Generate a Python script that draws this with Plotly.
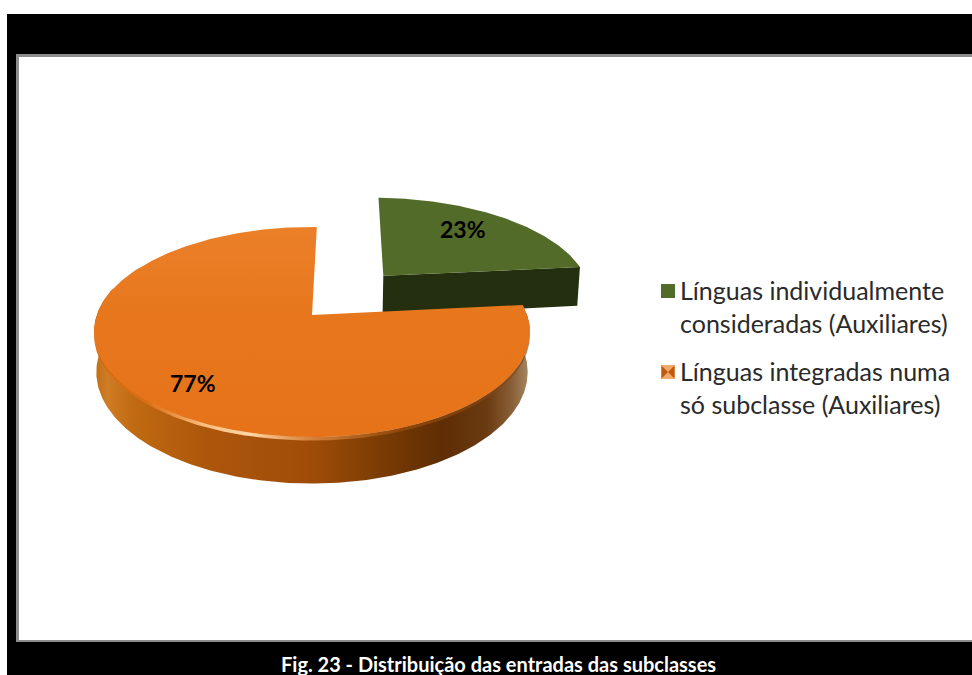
import numpy as np
import plotly.graph_objects as go

# ---- data ----
categories = ["Línguas individualmente<br>consideradas (Auxiliares)",
              "Línguas integradas numa<br>só subclasse (Auxiliares)"]
values = [23, 77]
value_labels = ["23%", "77%"]
caption = "Fig. 23 - Distribuição das entradas das subclasses"

# ---- style ----
GREEN_TOP = "#536b28"
GREEN_SIDE = "#232f0f"
FONT = "Lato"

# ---- perspective pie projection (screen-pixel axes) ----
CX, CY = 312.0, 315.0      # image of the pie centre
A, B, K = 215.0, 102.3, 0.162
H = 39.0                    # height of the disc
LOWER_SCALE = 0.99
ROT = 1.5                   # first slice angle
EXPLODE = 0.54
EXPLODE_SKEW = -2.0         # degrees


def proj(X, Y, low=False, h=H):
    w = 1 + K * Y
    sx = A * X / w
    sy = -B * Y / w
    if low:
        sx = sx * LOWER_SCALE
        sy = sy + h / w
    return CX + sx, CY + sy


shares = np.array(values, float) / sum(values)
bounds = np.concatenate([[0], np.cumsum(shares)]) * 360 + ROT


def arc(a0, a1, ox=0.0, oy=0.0, low=False, n=160, h=H):
    t = np.radians(np.linspace(a0, a1, n))
    return proj(ox + np.sin(t), oy + np.cos(t), low, h)


def poly(x, y, **kw):
    return go.Scatter(x=list(x), y=list(y), mode="lines", fill="toself",
                      line=dict(width=0), hoverinfo="skip", showlegend=False, **kw)


fig = go.Figure()

# --- green (exploded) slice ---
a0, a1 = bounds[0], bounds[1]
bis = np.radians((a0 + a1) / 2 + EXPLODE_SKEW)
ox, oy = EXPLODE * np.sin(bis), EXPLODE * np.cos(bis)
H_GREEN = H + 3
ax, ay = proj(np.array([ox]), np.array([oy]))
axl, ayl = proj(np.array([ox]), np.array([oy]), True, H_GREEN)
tx, ty = arc(a0, a1, ox, oy)
lx, ly = arc(a0, a1, ox, oy, True, h=H_GREEN)
# cut face of the green slice
fig.add_trace(poly(np.r_[ax, tx[-1], lx[-1], axl], np.r_[ay, ty[-1], ly[-1], ayl], fillcolor=GREEN_SIDE))
fig.add_trace(poly(np.r_[ax, tx], np.r_[ay, ty], fillcolor=GREEN_TOP))

# --- orange slice ---
a0, a1 = bounds[1], bounds[2]
WALL_END = 300              # the back of the rim is hidden behind the top face
tx, ty = arc(a0, a1, n=400)
wx, wy = arc(a0, WALL_END, n=400)
lx, ly = arc(a0, WALL_END, low=True, n=400)
ax, ay = proj(np.array([0.0]), np.array([0.0]))
wall_scale = [[0.00, "#c06c14"], [0.03, "#cf7d24"], [0.09, "#c06a12"], [0.25, "#ad570c"],
              [0.50, "#a04c08"], [0.65, "#7c3d04"], [0.80, "#5e2d04"], [0.90, "#6a3a10"],
              [0.96, "#8a6038"], [1.00, "#a88a68"]]
fig.add_trace(poly(np.r_[wx, lx[::-1]], np.r_[wy, ly[::-1]],
                   fillcolor="#a04c08",
                   fillgradient=dict(type="horizontal", colorscale=wall_scale)))
# soft rounded bevel under the top rim
bx, by = arc(bounds[1] + 5, 285, n=300)
bevel_scale = [[0.00, "rgba(215,105,15,0.95)"], [0.12, "rgba(220,110,20,0.90)"],
               [0.25, "rgba(255,195,130,0.95)"], [0.36, "rgba(255,215,165,1.0)"],
               [0.50, "rgba(235,150,80,0.70)"], [0.70, "rgba(170,85,15,0.55)"],
               [1.00, "rgba(120,65,15,0.55)"]]
fig.add_trace(poly(np.r_[bx, bx[::-1]], np.r_[by - 1, (by + 3.5)[::-1]],
                   fillcolor="rgba(240,150,70,0.45)",
                   fillgradient=dict(type="horizontal", colorscale=bevel_scale)))
top_scale = [[0.0, "#e6731a"], [0.55, "#e7761c"], [1.0, "#eb8029"]]
fig.add_trace(poly(np.r_[ax, tx, ax], np.r_[ay, ty, ay],
                   fillcolor="#e8771b",
                   fillgradient=dict(type="vertical", colorscale=top_scale)))

# --- legend swatches ---
fig.add_trace(go.Scatter(x=[668], y=[291], mode="markers", hoverinfo="skip", showlegend=False,
                         marker=dict(symbol="square", size=14, color=GREEN_TOP, line=dict(width=0))))
fig.add_trace(go.Scatter(x=[668], y=[372], mode="markers", hoverinfo="skip", showlegend=False,
                         marker=dict(symbol="square", size=14, color="#f2a868", line=dict(width=0))))
fig.add_trace(go.Scatter(x=[668], y=[372], mode="markers", hoverinfo="skip", showlegend=False,
                         marker=dict(symbol="bowtie", size=13, color="#bd5c0e", line=dict(width=0))))

# --- frame ---
shapes = [
    dict(type="rect", xref="x", yref="y", x0=7, x1=972, y0=14, y1=675,
         fillcolor="#000000", line_width=0, layer="below"),
    dict(type="rect", xref="x", yref="y", x0=16, x1=972, y0=54, y1=642,
         fillcolor="#8c8c8c", line_width=0, layer="below"),
    dict(type="rect", xref="x", yref="y", x0=19, x1=972, y0=57, y1=640,
         fillcolor="#ffffff", line_width=0, layer="below"),
]

annotations = [
    dict(x=463, y=229, text=value_labels[0], showarrow=False, xanchor="center", yanchor="middle",
         font=dict(family=FONT, size=23, color="#000000", weight=700)),
    dict(x=193, y=383, text=value_labels[1], showarrow=False, xanchor="center", yanchor="middle",
         font=dict(family=FONT, size=23, color="#000000", weight=700)),
    dict(x=678, y=306, text=categories[0], showarrow=False, xanchor="left", yanchor="middle", align="left",
         font=dict(family=FONT, size=25, color="#2a2a2a")),
    dict(x=678, y=387, text=categories[1], showarrow=False, xanchor="left", yanchor="middle", align="left",
         font=dict(family=FONT, size=25, color="#2a2a2a")),
    dict(x=498, y=664, text=caption, showarrow=False, xanchor="center", yanchor="middle",
         font=dict(family=FONT, size=20, color="#ffffff", weight=700)),
]

fig.update_layout(
    width=972, height=675, margin=dict(l=0, r=0, t=0, b=0),
    paper_bgcolor="#ffffff", plot_bgcolor="rgba(0,0,0,0)",
    showlegend=False, shapes=shapes, annotations=annotations,
    xaxis=dict(range=[0, 972], visible=False, fixedrange=True),
    yaxis=dict(range=[675, 0], visible=False, fixedrange=True),
)
fig.write_html("out.html", config=dict(displayModeBar=False),
               post_script="document.body.style.margin='0';document.body.style.overflow='hidden';")
